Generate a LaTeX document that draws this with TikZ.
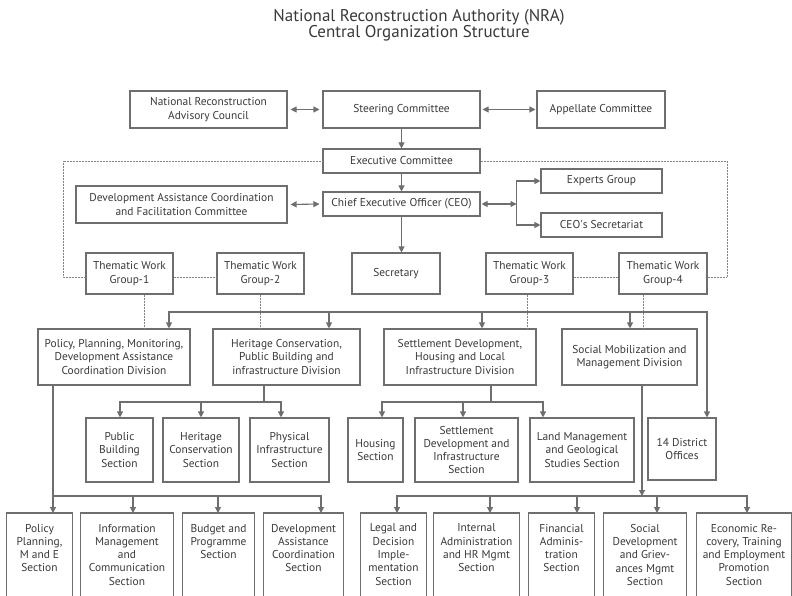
\documentclass[tikz,border=0pt]{standalone}
\usepackage{fontspec}
\setmainfont{PT Sans}
\usetikzlibrary{arrows.meta}
\definecolor{txt}{HTML}{3A3A3A}
\definecolor{ln}{HTML}{6E6E6E}
\begin{document}
\begin{tikzpicture}[x=1pt,y=-1pt,
 box/.style={draw=ln, line width=1.1pt, text=txt, align=center, inner sep=0pt, font=\fontsize{11.4}{13.3}\selectfont},
 tbox/.style={text=txt, align=center, inner xsep=0pt, inner ysep=10.8pt, anchor=north, font=\fontsize{11.4}{13.3}\selectfont},
 ttl/.style={text=txt, anchor=base, inner sep=0pt, font=\fontsize{17}{17}\selectfont},
 frame/.style={draw=ln, line width=1.1pt},
 conn/.style={draw=ln, line width=1.1pt},
 arr/.style={conn, -{Triangle[length=6pt,width=6pt]}},
 darr/.style={conn, {Triangle[length=6pt,width=6pt]}-{Triangle[length=6pt,width=6pt]}},
 dot/.style={draw=ln!85, line width=0.6pt, dash pattern=on 0.7pt off 0.8pt},
]
\useasboundingbox (0,0) rectangle (792,596);
\fill[white] (0,0) rectangle (792,596);
\clip (0,0) rectangle (792,596);

% title
\node[ttl] (title1) at (419,21.5) {National Reconstruction Authority (NRA)};
\node[ttl] (title2) at (419,37.8) {Central Organization Structure};

% top level
\node[box, minimum width=157pt, minimum height=37pt] (nrac) at (208.5,109.5) {National Reconstruction\\Advisory Council};
\node[box, minimum width=157pt, minimum height=37pt] (steer) at (401.5,109.5) {Steering Committee};
\node[box, minimum width=128pt, minimum height=37pt] (appel) at (601,109.5) {Appellate Committee};
\node[box, minimum width=157pt, minimum height=24pt] (exec) at (401.5,161) {Executive Committee};
\node[box, minimum width=157pt, minimum height=24pt] (ceo) at (401.5,204) {Chief Executive Officer (CEO)};
\node[box, minimum width=211pt, minimum height=37pt] (dacfc) at (181.5,204.5) {Development Assistance Coordination\\and Facilitation Committee};
\node[box, minimum width=121pt, minimum height=24pt] (experts) at (601.5,181) {Experts Group};
\node[box, minimum width=121pt, minimum height=24pt] (ceosec) at (601.5,225) {CEO\textquotesingle s Secretariat};
\node[box, minimum width=88pt, minimum height=41pt] (secr) at (396,273.5) {Secretary};
\node[box, minimum width=87pt, minimum height=41pt] (twg1) at (129.5,273.5) {Thematic Work\\Group-1};
\node[box, minimum width=87pt, minimum height=41pt] (twg2) at (260.5,273.5) {Thematic Work\\Group-2};
\node[box, minimum width=87pt, minimum height=41pt] (twg3) at (529.5,273.5) {Thematic Work\\Group-3};
\node[box, minimum width=88pt, minimum height=41pt] (twg4) at (663,273.5) {Thematic Work\\Group-4};

% divisions
\node[box, minimum width=152pt, minimum height=56pt] (div1) at (114,357) {Policy, Planning, Monitoring,\\Development Assistance\\Coordination Division};
\node[box, minimum width=147pt, minimum height=56pt] (div2) at (286.5,357) {Heritage Conservation,\\Public Building and\\infrastructure Division};
\node[box, minimum width=152pt, minimum height=56pt] (div3) at (460,357) {Settlement Development,\\Housing and Local\\Infrastructure Division};
\node[box, minimum width=135pt, minimum height=56pt] (div4) at (629.5,357) {Social Mobilization and\\Management Division};

% sections
\node[box, minimum width=67pt, minimum height=64pt] (s1) at (119.5,450) {Public\\Building\\Section};
\node[box, minimum width=76pt, minimum height=64pt] (s2) at (201,450) {Heritage\\Conservation\\Section};
\node[box, minimum width=79pt, minimum height=64pt] (s3) at (289.5,450) {Physical\\Infrastructure\\Section};
\node[box, minimum width=55pt, minimum height=64pt] (s4) at (375.5,450) {Housing\\Section};
\node[box, minimum width=103pt, minimum height=64pt] (s5) at (466.5,450) {Settlement\\Development and\\Infrastructure\\Section};
\node[box, minimum width=104pt, minimum height=64pt] (s6) at (582,450) {Land Management\\and Geological\\Studies Section};
\node[box, minimum width=68pt, minimum height=62pt] (dist) at (682,449) {14 District\\Offices};

% bottom row
\node[tbox, minimum width=65pt] (b1) at (39.5,513) {Policy\\Planning,\\M and E\\Section};
\node[tbox, minimum width=92pt] (b2) at (127,513) {Information\\Management\\and\\Communication\\Section};
\node[tbox, minimum width=71pt] (b3) at (218.5,513) {Budget and\\Programme\\Section};
\node[tbox, minimum width=79pt] (b4) at (303.5,513) {Development\\Assistance\\Coordination\\Section};
\node[tbox, minimum width=65pt] (b5) at (393.5,513) {Legal and\\Decision\\Imple-\\mentation\\Section};
\node[tbox, minimum width=85pt] (b6) at (476.5,513) {Internal\\Administration\\and HR Mgmt\\Section};
\node[tbox, minimum width=65pt] (b7) at (561.5,513) {Financial\\Adminis-\\tration\\Section};
\node[tbox, minimum width=82pt] (b8) at (645,513) {Social\\Development\\and Griev-\\ances Mgmt\\Section};
\node[tbox, minimum width=94pt] (b9) at (744,513) {Economic Re-\\covery, Training\\and Employment\\Promotion\\Section};
\foreach \b in {b1,b2,b3,b4,b5,b6,b7,b8,b9}
  \draw[frame] (\b.north west) rectangle ([yshift=-110pt]\b.north east);

% top connectors
\draw[darr, shorten <=3pt, shorten >=3pt] (nrac.east) -- (steer.west);
\draw[darr, shorten <=2pt, shorten >=1pt] (steer.east) -- (appel.west);
\draw[arr] (steer.south) -- (exec.north);
\draw[arr] (exec.south) -- (ceo.north);
\draw[darr, shorten <=3pt, shorten >=3pt] (dacfc.east) -- (ceo.west);
\coordinate (cb) at (516.5,204);
\draw[darr, shorten <=1pt] (ceo.east) -- (cb);
\draw[arr] (cb) |- (experts.west);
\draw[arr] (cb) |- (ceosec.west);
\draw[arr] (ceo.south) -- (ceo.south |- secr.north);

% dotted links
\coordinate (dl) at (63,277);
\coordinate (dr) at (727,277);
\draw[dot] (exec.west) -| (dl) -- ([yshift=-3.5pt]twg1.west);
\draw[dot] ([yshift=-3.5pt]twg1.east) -- ([yshift=-3.5pt]twg2.west);
\draw[dot] ([yshift=-3.5pt]twg3.east) -- ([yshift=-3.5pt]twg4.west);
\draw[dot] (exec.east) -| (dr) -- ([yshift=-3.5pt]twg4.east);
\coordinate (t1) at (144,0);
\coordinate (t2) at (260,0);
\coordinate (t3) at (527,0);
\coordinate (t4) at (643,0);
\draw[dot] (twg1.south -| t1) -- (t1 |- div1.north);
\draw[dot] (twg2.south -| t2) -- (t2 |- div2.north);
\draw[dot] (twg3.south -| t3) -- (t3 |- div3.north);
\draw[dot] (twg4.south -| t4) -- (t4 |- div4.north);

% division bus
\coordinate (vl) at (169,312);
\coordinate (v2) at (329,312);
\coordinate (v3) at (482,312);
\coordinate (v4) at (630,312);
\coordinate (vr) at (707,312);
\draw[arr] (v3) -| (vl |- div1.north);
\draw[arr] (v3) -| (vr |- dist.north);
\draw[arr] (v2) -- (v2 |- div2.north);
\draw[arr] (v3) -- (v3 |- div3.north);
\draw[arr] (v4) -- (v4 |- div4.north);

% heritage sections
\coordinate (hm) at (264,402);
\coordinate (hl) at (120,402);
\coordinate (hc) at (201,402);
\coordinate (hr) at (281,402);
\draw[conn] (div2.south -| hm) -- (hm);
\draw[arr] (hm) -| (hl |- s1.north);
\draw[arr] (hm) -| (hr |- s3.north);
\draw[arr] (hc) -- (hc |- s2.north);

% settlement sections
\coordinate (gm) at (491,402);
\coordinate (gl) at (382,402);
\coordinate (gc) at (463,402);
\coordinate (gr) at (543,402);
\draw[conn] (div3.south -| gm) -- (gm);
\draw[arr] (gm) -| (gl |- s4.north);
\draw[arr] (gm) -| (gr |- s6.north);
\draw[arr] (gc) -- (gc |- s5.north);

% policy sections
\coordinate (pl) at (53,496);
\coordinate (p2) at (133,496);
\coordinate (p3) at (218,496);
\coordinate (pr) at (321,496);
\draw[arr] (div1.south -| pl) -- (pl |- b1.north);
\draw[arr] (pl) -| (pr |- b4.north);
\draw[arr] (p2) -- (p2 |- b2.north);
\draw[arr] (p3) -- (p3 |- b3.north);

% social sections
\coordinate (qm) at (642,496);
\coordinate (ql) at (397,496);
\coordinate (q6) at (490,496);
\coordinate (q7) at (577,496);
\coordinate (q8) at (657,496);
\coordinate (qr) at (747,496);
\draw[arr] (div4.south -| qm) -- (qm);
\draw[arr] (qm) -| (ql |- b5.north);
\draw[arr] (qm) -| (qr |- b9.north);
\draw[arr] (q6) -- (q6 |- b6.north);
\draw[arr] (q7) -- (q7 |- b7.north);
\draw[arr] (q8) -- (q8 |- b8.north);
\end{tikzpicture}
\end{document}
